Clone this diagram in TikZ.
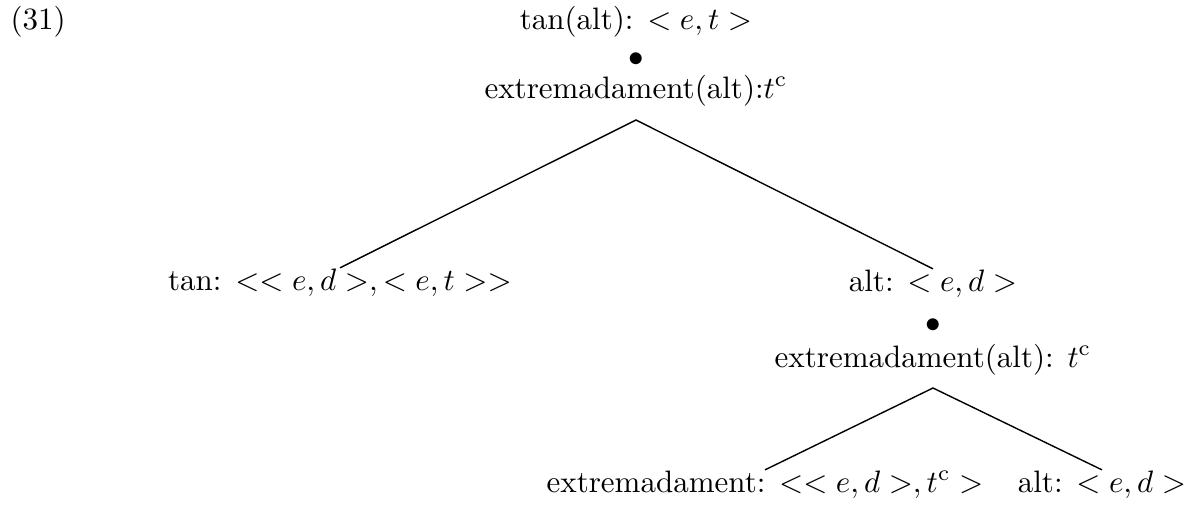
\documentclass[tikz,border=0pt]{standalone}
\begin{document}
\begin{tikzpicture}[x=0.32258pt,y=-0.32258pt,
  lbl/.style={inner sep=0pt, anchor=base},
  lblw/.style={inner sep=0pt, anchor=base west},
  dot/.style={inner sep=0pt},
  branch/.style={line width=0.45pt}]
\useasboundingbox (0,0) rectangle (1192,504);
% example number
\node[lblw] (num) at (10,29) {(31)};
% root
\node[lbl] (t1) at (636,29) {tan(alt): $< e, t >$};
\node[dot] (b1) at (636,60) {$\bullet$};
\node[lbl] (e1) at (636,98) {extremadament(alt):$t^{\mathrm{c}}$};
% level 1
\node[lbl] (l) at (340,290) {tan: $<< e, d >, < e, t >>$};
\node[lbl] (r) at (933,291) {alt: $< e, d >$};
\node[dot] (b2) at (933,326) {$\bullet$};
\node[lbl] (e2) at (933,367) {extremadament(alt): $t^{\mathrm{c}}$};
% level 2
\node[lbl] (bl) at (765,492) {extremadament: $<< e, d >, t^{\mathrm{c}} >$};
\node[lbl] (br) at (1102,492) {alt: $< e, d >$};
% branch points
\path (e1.base) ++(0,22) coordinate (a1);
\path (e2.base) ++(0,21) coordinate (a2);
\draw[branch] (l.north) -- (a1) -- (r.north);
\draw[branch] (bl.north) -- (a2) -- (br.north);
\end{tikzpicture}
\end{document}
